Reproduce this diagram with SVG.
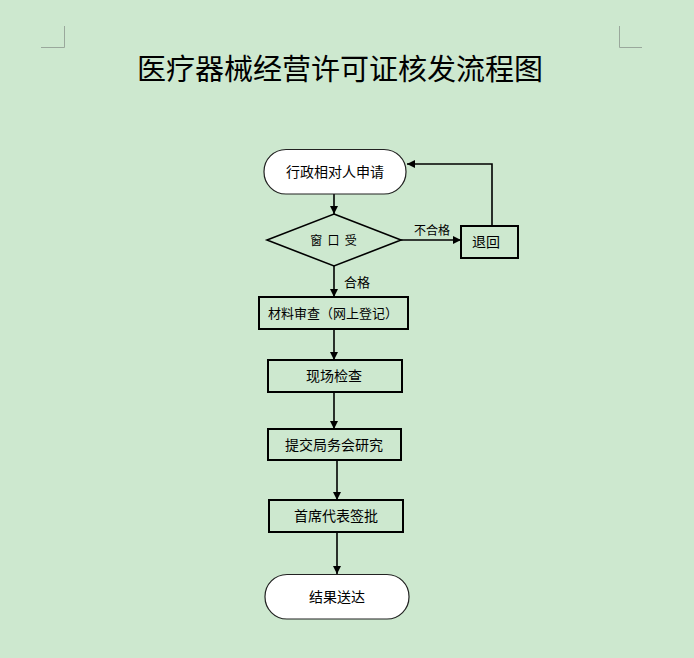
<svg xmlns="http://www.w3.org/2000/svg" width="694" height="658" viewBox="0 0 694 658">
<defs>
<style>
text{font-family:"Liberation Sans","Noto Sans CJK SC",sans-serif;fill:#000;}
.t{font-size:14px;text-anchor:middle;}
.term{fill:#fff;stroke:#222;stroke-width:1.2;}
.box{fill:none;stroke:#000;stroke-width:2;}
.con{fill:none;stroke:#000;stroke-width:1.6;}
.mark{fill:none;stroke:#9aa89c;stroke-width:1;}
</style>
<marker id="ah" viewBox="0 0 10 10" refX="10" refY="5" markerWidth="8" markerHeight="8" markerUnits="userSpaceOnUse" orient="auto">
<path d="M0,0 L10,5 L0,10 Z" fill="#000"/>
</marker>
</defs>
<rect x="0" y="0" width="694" height="658" fill="#cde8cf"/>
<g id="marks">
<path class="mark" d="M64.5,26 V47.5 H41"/>
<path class="mark" d="M619.5,26 V47.5 H642"/>
</g>
<text x="340" y="80" style="font-size:29px;text-anchor:middle;">医疗器械经营许可证核发流程图</text>
<g id="connectors">
<path class="con" d="M334,194 V214" marker-end="url(#ah)"/>
<path class="con" d="M401,240 H461" marker-end="url(#ah)"/>
<path class="con" d="M492,226 V164 H407" marker-end="url(#ah)"/>
<path class="con" d="M334,266 V297" marker-end="url(#ah)"/>
<path class="con" d="M334,329 V360" marker-end="url(#ah)"/>
<path class="con" d="M334,392 V429" marker-end="url(#ah)"/>
<path class="con" d="M337,460 V500" marker-end="url(#ah)"/>
<path class="con" d="M337,532 V574" marker-end="url(#ah)"/>
<text x="432" y="235" style="font-size:12px;text-anchor:middle;">不合格</text>
<text x="357" y="287" style="font-size:13px;text-anchor:middle;">合格</text>
</g>
<g id="start">
<rect class="term" x="264" y="149.5" width="142" height="44.5" rx="22"/>
<text class="t" x="335" y="177">行政相对人申请</text>
</g>
<g id="window">
<path d="M334,214 L401,240 L334,266 L267,240 Z" fill="none" stroke="#000" stroke-width="1.6"/>
<text x="334" y="245" style="font-size:12px;text-anchor:middle;letter-spacing:1px;">窗 口 受</text>
</g>
<g id="return">
<rect class="box" x="461" y="226" width="57" height="32"/>
<text x="472" y="247" style="font-size:14px;">退回</text>
</g>
<g id="review">
<rect class="box" x="259" y="297" width="149" height="32"/>
<text x="333" y="318" style="font-size:13px;text-anchor:middle;">材料审查（网上登记）</text>
</g>
<g id="inspect">
<rect class="box" x="268" y="360" width="134" height="32"/>
<text class="t" x="334" y="381">现场检查</text>
</g>
<g id="meeting">
<rect class="box" x="268" y="429" width="133" height="31"/>
<text class="t" x="334" y="450">提交局务会研究</text>
</g>
<g id="approve">
<rect class="box" x="269" y="500" width="134" height="32"/>
<text class="t" x="336" y="521">首席代表签批</text>
</g>
<g id="end">
<rect class="term" x="265" y="574.5" width="144" height="44.5" rx="22"/>
<text class="t" x="337" y="602">结果送达</text>
</g>
</svg>
